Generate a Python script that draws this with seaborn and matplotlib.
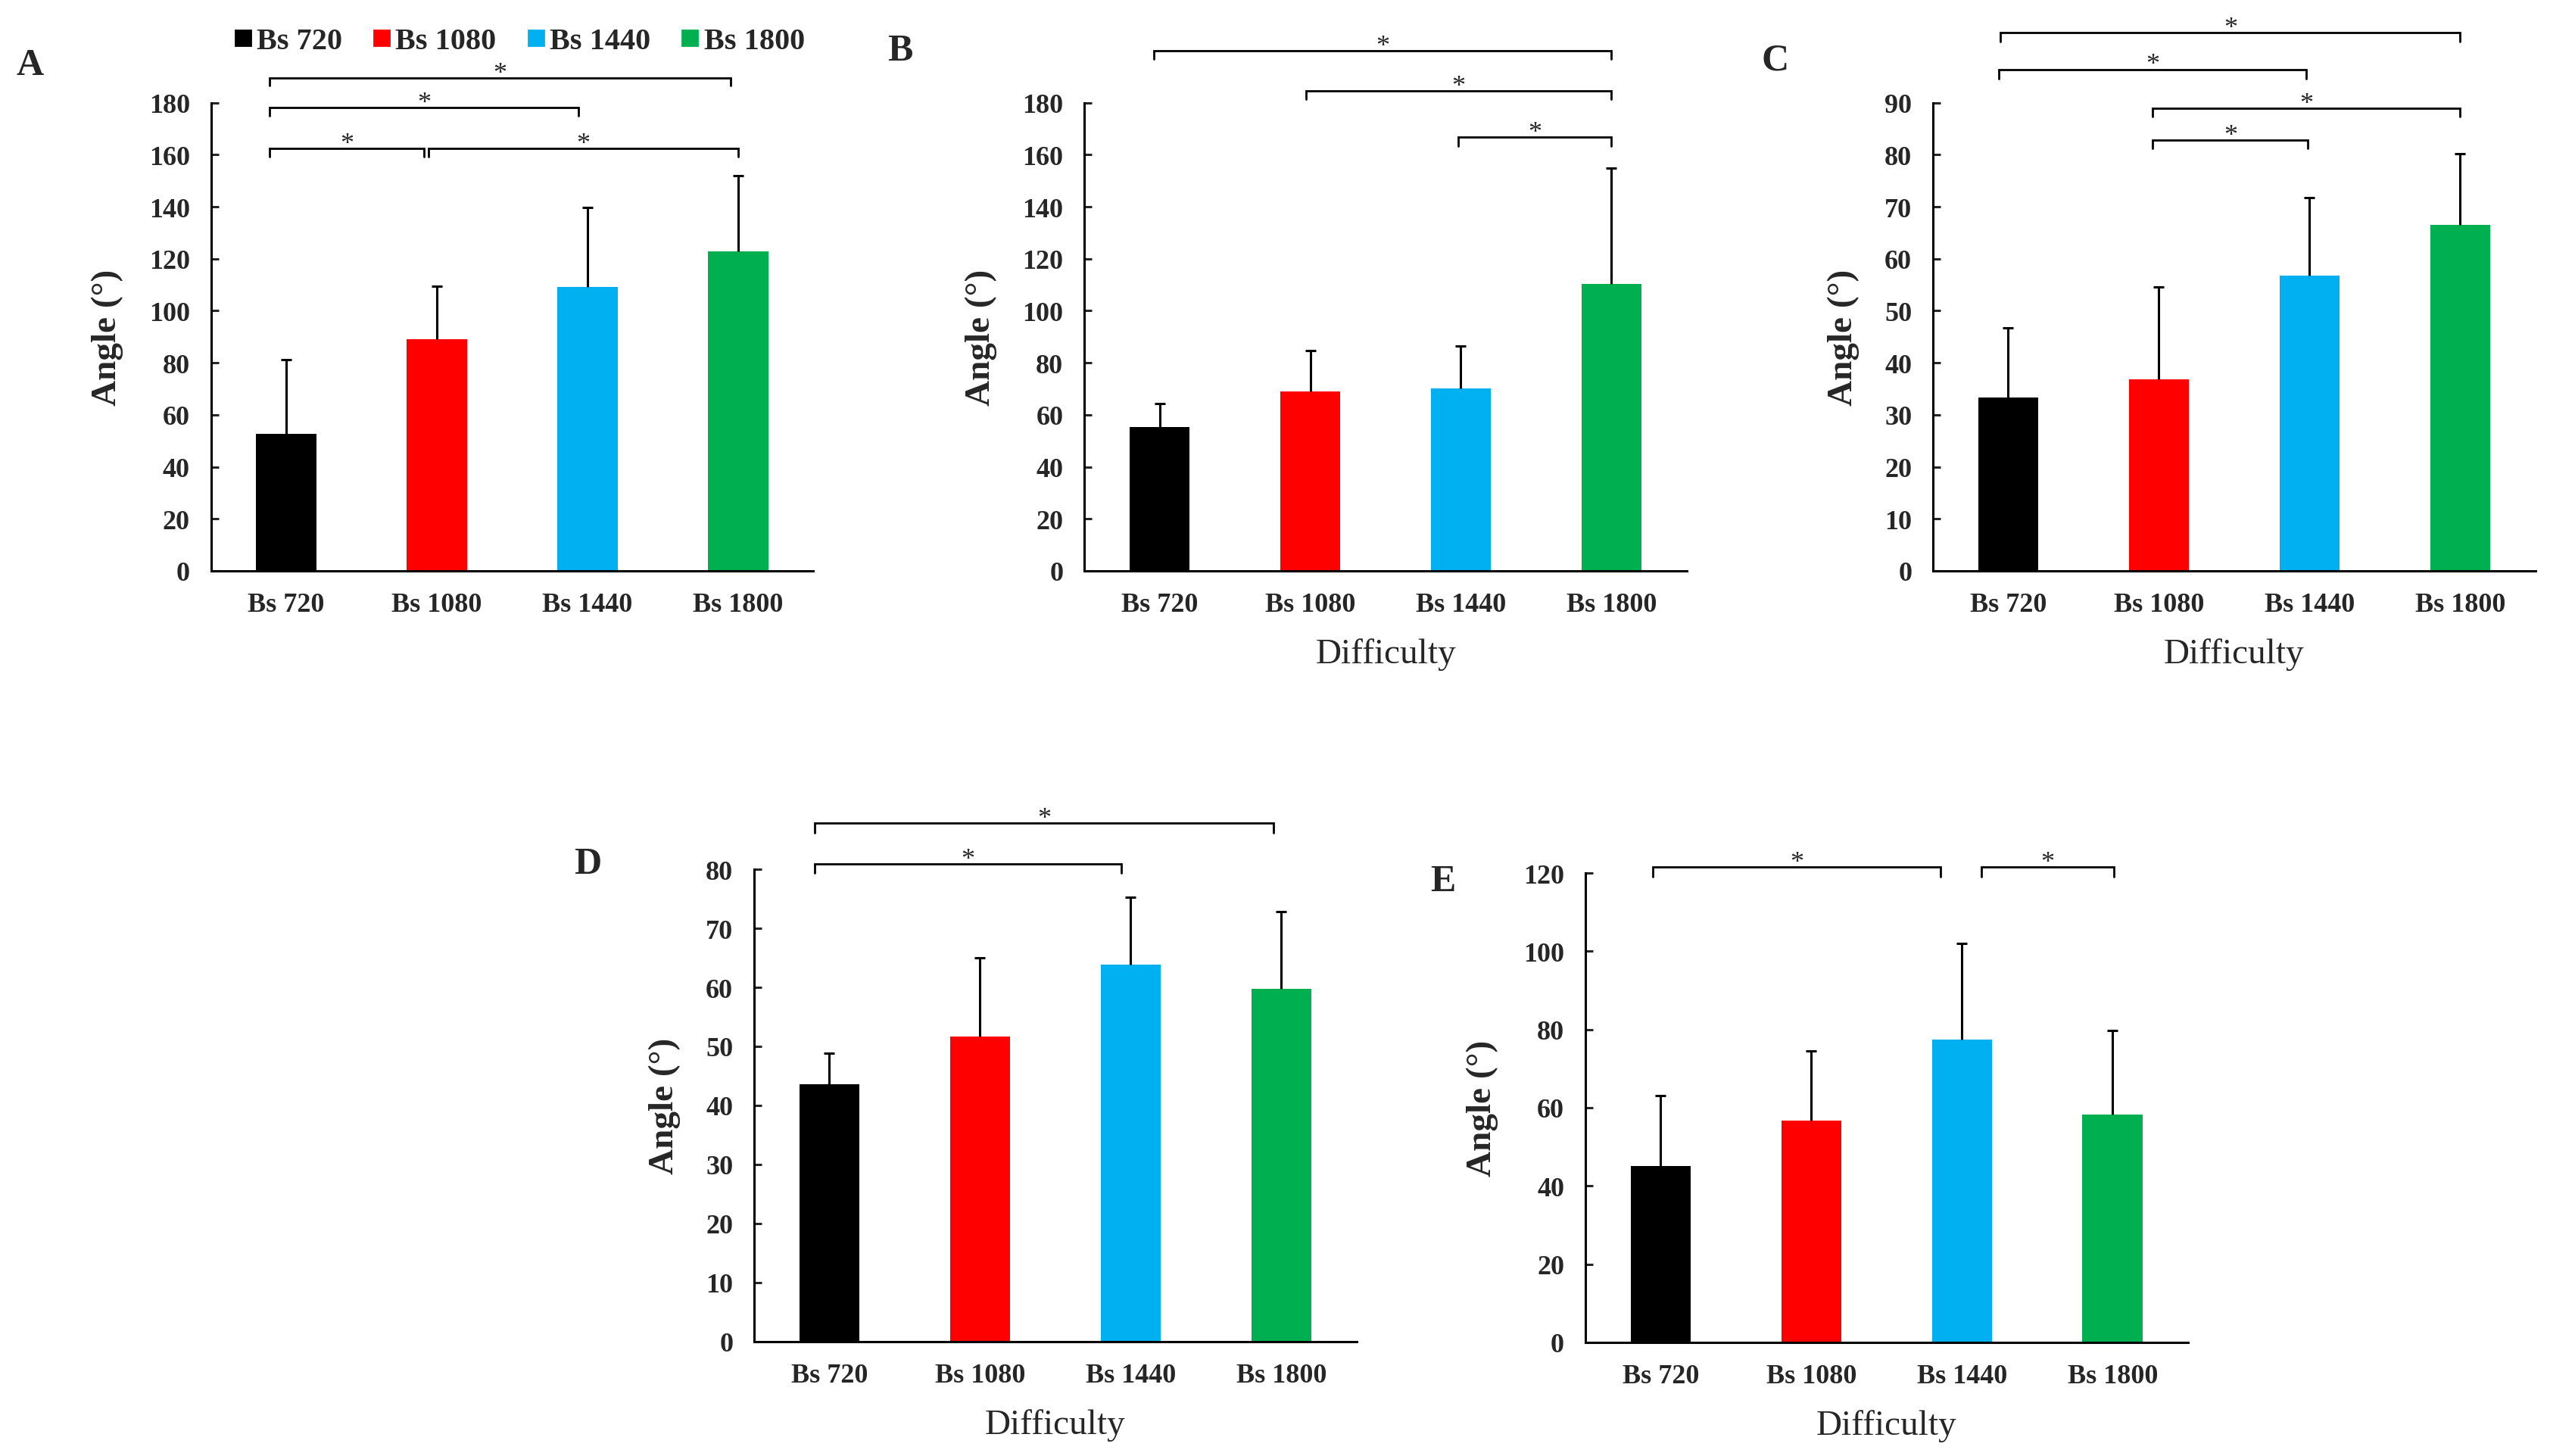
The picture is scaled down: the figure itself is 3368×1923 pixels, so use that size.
import numpy as np
import matplotlib
matplotlib.use("Agg")
import matplotlib.pyplot as plt
import seaborn as sns
from matplotlib.lines import Line2D

sns.set_style("white")
plt.rcParams['font.family'] = ['Liberation Serif', 'DejaVu Serif']

# data (mean and upper SD per difficulty)
levels = ["Bs 720", "Bs 1080", "Bs 1440", "Bs 1800"]
colors = ["#000000", "#FF0000", "#00B0F0", "#00B050"]

mean_a = [52.8, 89.2, 109.2, 122.7]
sd_a = [28.4, 20.3, 30.6, 29.1]
mean_b = [55.3, 69.0, 70.0, 110.3]
sd_b = [8.9, 15.8, 16.5, 44.5]
mean_c = [33.3, 36.8, 56.7, 66.5]
sd_c = [13.4, 17.8, 15.1, 13.7]
mean_d = [43.6, 51.7, 63.8, 59.8]
sd_d = [5.3, 13.3, 11.4, 13.0]
mean_e = [45.0, 56.8, 77.5, 58.2]
sd_e = [18.0, 17.8, 24.5, 21.5]

# significance brackets: (x start, x end, line height, end height)
sig_a = [(-0.11, 2.95, 189.5, 186.5), (-0.11, 1.94, 178.2, 174.8),
         (-0.11, 0.915, 162.3, 159.2), (0.944, 3.0, 162.3, 159.2)]
sig_b = [(-0.04, 3.0, 200.0, 196.7), (0.97, 3.0, 184.5, 181.2),
         (1.98, 3.0, 166.7, 163.3)]
sig_c = [(-0.05, 3.0, 103.5, 101.8), (-0.06, 1.98, 96.4, 94.6),
         (0.96, 3.0, 88.9, 87.25), (0.96, 1.99, 82.8, 81.2)]
sig_d = [(-0.10, 2.95, 87.8, 86.2), (-0.10, 1.94, 80.9, 79.4)]
sig_e = [(-0.05, 1.86, 121.5, 119.1), (2.13, 3.01, 121.5, 119.1)]

fig = plt.figure(figsize=(16.84, 9.62), dpi=200)

panels = [
    ("A", [0.0827, 0.6076, 0.2363, 0.3214], mean_a, sd_a, sig_a, 180, 20, False, (0.0117, 0.955)),
    ("B", [0.4252, 0.6076, 0.2363, 0.3214], mean_b, sd_b, sig_b, 180, 20, True, (0.353, 0.9646)),
    ("C", [0.7580, 0.6076, 0.2363, 0.3214], mean_c, sd_c, sig_c, 90, 10, True, (0.696, 0.958)),
    ("D", [0.2957, 0.0785, 0.2363, 0.3243], mean_d, sd_d, sig_d, 80, 10, True, (0.2305, 0.4064)),
    ("E", [0.6217, 0.0780, 0.2363, 0.3222], mean_e, sd_e, sig_e, 120, 20, True, (0.566, 0.3945)),
]

for letter, rect, mean, sd, sig, ymax, step, show_xlabel, lpos in panels:
    ax = fig.add_axes(rect)
    sns.barplot(x=levels, y=mean, hue=levels, palette=colors, legend=False,
                errorbar=None, width=0.4, saturation=1, linewidth=0, ax=ax)
    # upper error bar only
    eb = ax.errorbar(np.arange(len(levels)), mean, yerr=[np.zeros(len(sd)), sd],
                     fmt='none', ecolor='black', elinewidth=1.1, capsize=2.5,
                     capthick=1.1)
    for cap in eb.lines[1]:
        if np.allclose(cap.get_ydata(), mean):
            cap.set_visible(False)
    ax.set_xlim(-0.5, 3.5)
    ax.set_ylim(0, ymax)
    ax.set_yticks(np.arange(0, ymax + 1, step))
    sns.despine(ax=ax)
    for s in ["left", "bottom"]:
        ax.spines[s].set_color("black")
        ax.spines[s].set_linewidth(1.1)
        ax.spines[s].set_zorder(3)
    ax.tick_params(axis="y", direction="in", length=3.6, width=1.1, pad=10,
                   left=True, labelsize=13)
    ax.tick_params(axis="x", length=0, pad=10, labelsize=13)
    for t in ax.get_xticklabels() + ax.get_yticklabels():
        t.set_fontweight("bold")
    ax.set_ylabel("Angle (°)", fontsize=17, fontweight="bold", labelpad=12)
    if show_xlabel:
        ax.set_xlabel("Difficulty", fontsize=17, labelpad=10)
    else:
        ax.set_xlabel("")

    for x1, x2, yl, ye in sig:
        ax.plot([x1, x1, x2, x2], [ye, yl, yl, ye], color="black", lw=1.0,
                clip_on=False, solid_joinstyle="miter")
        ax.annotate("*", xy=((x1 + x2) / 2, yl), xytext=(0, -1),
                    textcoords="offset points", ha="center", va="baseline",
                    fontsize=13, annotation_clip=False)

    fig.text(lpos[0], lpos[1], letter, fontsize=18, fontweight="bold",
             ha="center", va="center")

handles = [Line2D([], [], marker="s", linestyle="none", markersize=7.5,
                  markerfacecolor=c, markeredgecolor=c) for c in colors]
leg = fig.legend(handles, levels, loc="center", bbox_to_anchor=(0.203, 0.971),
                 ncol=4, frameon=False, handletextpad=0.05, columnspacing=0.9,
                 handlelength=0.8, prop={"weight": "bold", "size": 14.5})

fig.savefig("out.png", dpi=200, facecolor="white")
